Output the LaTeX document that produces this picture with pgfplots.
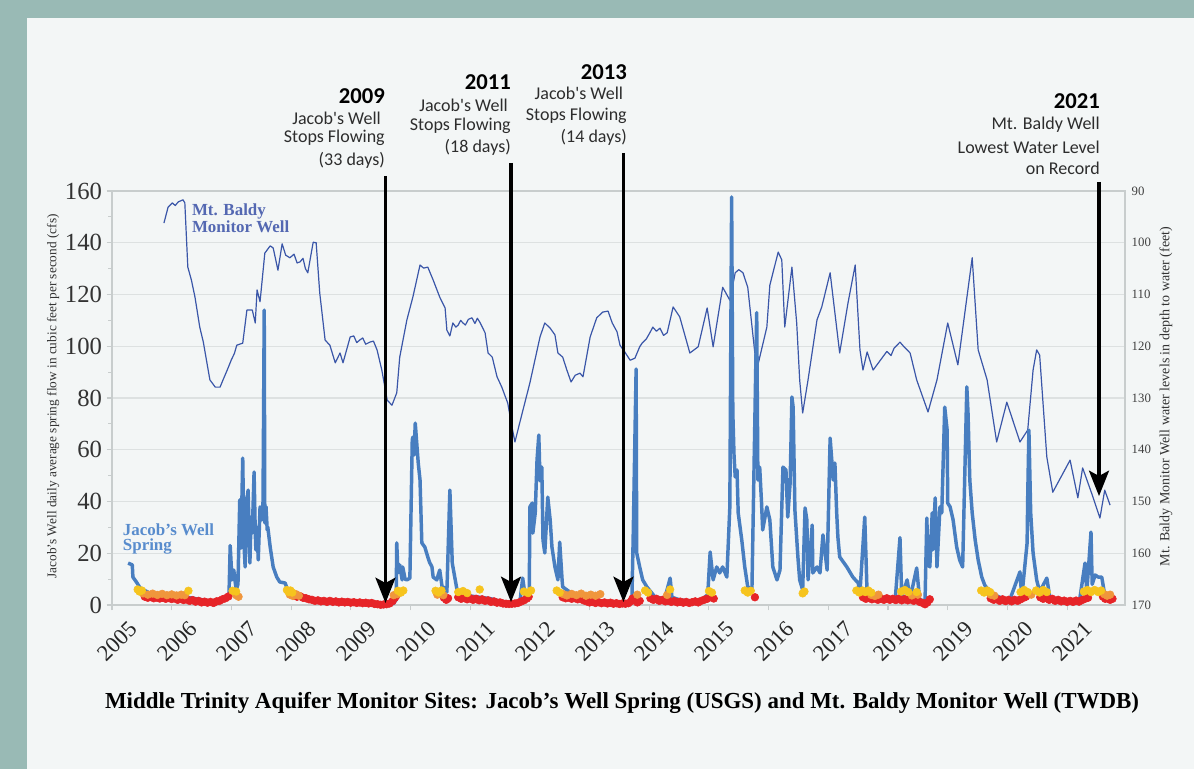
\documentclass[border=0pt]{standalone}
\usepackage{fontspec}
\setmainfont{Liberation Serif}
\newfontfamily\carlito{Carlito}
\usepackage{pgfplots}
\pgfplotsset{compat=1.18}
\usetikzlibrary{arrows.meta}
\definecolor{outerbg}{RGB}{153,186,181}
\definecolor{panel}{RGB}{243,246,246}
\definecolor{springblue}{RGB}{72,126,192}
\definecolor{baldyblue}{RGB}{58,86,168}
\definecolor{baldytext}{RGB}{84,104,178}
\definecolor{springtext}{RGB}{88,140,205}
\definecolor{gridc}{RGB}{221,225,225}
\definecolor{framec}{RGB}{200,205,205}
\definecolor{dotred}{RGB}{230,36,40}
\definecolor{dotorange}{RGB}{240,150,60}
\definecolor{dotyellow}{RGB}{246,196,30}
\definecolor{annot}{RGB}{45,45,45}
\begin{document}
\begin{tikzpicture}[x=1pt,y=1pt]
\fill[outerbg] (0,0) rectangle (895.5,576.75);
\fill[panel] (20.25,0) rectangle (895.5,563.25);

% ---------- right axis: Mt. Baldy depth to water ----------
\begin{axis}[at={(84pt,123pt)}, anchor=south west, scale only axis,
  width=759.75pt, height=310.5pt,
  xmin=2005, xmax=2021.97, ymin=90, ymax=170, y dir=reverse,
  axis y line*=right, axis x line=none,
  ytick={90,100,...,170}, ymajorgrids,
  grid style={gridc, line width=1.1pt},
  major tick length=0pt, axis line style={draw=none},
  /pgf/number format/assume math mode=true,
  yticklabel style={font=\fontsize{9.6}{10}\selectfont, text=black!75, xshift=1.5pt},
]
\addplot[baldyblue, line width=0.9pt, line join=round] coordinates {
(2005.87,96.2) (2005.94,93.1) (2006.01,92.3) (2006.06,92.8) (2006.11,92.1) (2006.19,91.7) (2006.22,92.3)
(2006.27,104.7) (2006.33,107.2) (2006.39,110.5) (2006.47,116.3) (2006.53,119.2) (2006.59,123.2) (2006.64,126.5) (2006.73,127.9)
(2006.81,127.9) (2006.86,126.5) (2006.93,124.6) (2007.00,122.6) (2007.05,121.4) (2007.09,119.8) (2007.19,119.4) (2007.26,113.0)
(2007.35,113.0) (2007.40,115.5) (2007.43,109.1) (2007.48,111.4) (2007.56,102.0) (2007.65,100.6)
(2007.70,101.0) (2007.78,105.3) (2007.85,100.2) (2007.91,102.4) (2007.98,102.9) (2008.05,102.2) (2008.10,103.9)
(2008.15,103.7) (2008.20,103.0) (2008.24,105.0) (2008.28,105.8)
(2008.37,99.9) (2008.42,100.0) (2008.48,109.7) (2008.57,118.8) (2008.65,119.8) (2008.74,123.2)
(2008.82,121.3) (2008.87,123.2) (2008.99,118.2) (2009.05,118.0) (2009.10,119.3) (2009.15,118.8) (2009.20,118.4)
(2009.25,119.6) (2009.32,119.2) (2009.38,119.0) (2009.44,120.7)
(2009.52,124.6) (2009.61,130.4) (2009.69,131.4) (2009.77,129.0) (2009.82,122.1) (2009.94,114.9)
(2010.04,110.5) (2010.16,104.3) (2010.22,104.9) (2010.29,104.7) (2010.38,107.2) (2010.49,110.5) (2010.58,112.6)
(2010.61,116.9) (2010.66,118.0) (2010.71,115.5) (2010.76,116.3) (2010.80,115.9) (2010.84,115.0) (2010.88,115.5)
(2010.92,115.9) (2010.97,114.8) (2011.03,114.5) (2011.08,115.6) (2011.12,114.6)
(2011.16,115.3) (2011.25,117.4) (2011.30,121.3) (2011.37,122.1) (2011.45,125.9) (2011.53,127.9)
(2011.63,131.0) (2011.70,135.6) (2011.75,138.5) (2011.83,134.8) (2012.00,127.1) (2012.17,118.2)
(2012.25,115.5) (2012.34,116.5) (2012.42,117.8) (2012.47,121.3) (2012.55,122.1) (2012.62,124.6)
(2012.69,126.9) (2012.76,125.6) (2012.84,125.2) (2012.89,125.9) (2013.01,118.2) (2013.12,114.5)
(2013.22,113.4) (2013.31,113.2) (2013.38,115.5) (2013.46,117.2) (2013.51,119.8) (2013.59,121.1)
(2013.68,122.7) (2013.76,122.3) (2013.84,120.1) (2013.88,119.4) (2013.95,118.6) (2014.01,117.4) (2014.06,116.3)
(2014.12,117.1) (2014.18,116.5) (2014.24,117.9) (2014.30,117.4) (2014.40,112.4) (2014.51,114.3) (2014.68,121.3) (2014.82,120.1) (2014.97,112.6)
(2015.07,120.1) (2015.23,108.6) (2015.35,111.1) (2015.44,105.8) (2015.50,105.2) (2015.57,105.8) (2015.65,108.6)
(2015.80,124.6) (2015.97,116.3) (2016.02,108.2) (2016.16,101.8) (2016.22,103.3) (2016.27,116.3)
(2016.39,104.7) (2016.47,115.5) (2016.52,126.5) (2016.57,132.9) (2016.66,126.5) (2016.81,114.9)
(2016.89,112.4) (2017.03,105.8) (2017.19,121.3) (2017.33,111.6) (2017.45,104.3) (2017.53,120.7)
(2017.58,124.6) (2017.65,121.1) (2017.75,124.6) (2017.91,122.1) (2017.98,121.0) (2018.05,121.8) (2018.10,120.4)
(2018.15,119.8) (2018.20,119.2) (2018.26,120.0) (2018.37,121.3)
(2018.48,126.5) (2018.67,132.7) (2018.82,126.5) (2019.00,115.5) (2019.17,123.6) (2019.41,102.9)
(2019.51,120.7) (2019.66,126.5) (2019.82,138.5) (2019.99,130.8) (2020.21,138.5) (2020.34,136.2)
(2020.43,124.6) (2020.49,120.7) (2020.54,121.7) (2020.66,141.4) (2020.76,148.2) (2021.05,142.0)
(2021.18,149.3) (2021.26,143.5) (2021.42,148.7) (2021.55,153.2) (2021.63,147.8) (2021.72,150.7)
};
\end{axis}

% ---------- left axis: Jacob's Well spring flow ----------
\begin{axis}[at={(84pt,123pt)}, anchor=south west, scale only axis,
  width=759.75pt, height=310.5pt,
  xmin=2005, xmax=2021.97, ymin=0, ymax=160,
  axis line style={framec, line width=0.8pt},
  xtick={2005,2006,...,2021}, ytick={0,20,...,160}, minor y tick num=1,
  xtick pos=lower, ytick pos=left,
  tick align=outside, major tick length=4pt, minor tick length=3pt,
  tick style={framec, line width=0.8pt},
  /pgf/number format/assume math mode=true,
  x tick label style={/pgf/number format/1000 sep={}, font=\fontsize{17}{18}\selectfont, text=black!85,
     anchor=north east, xshift=12pt, yshift=-2.25pt, rotate=45},
  yticklabel style={font=\fontsize{18.5}{20}\selectfont, text=black!80},
]
\addplot[springblue, line width=2.6pt, line join=round] coordinates {
(2005.27,16.2) (2005.34,15.5) (2005.35,10.8) (2005.42,8.5) (2005.47,6.6) (2005.64,4.5) (2005.89,4)
(2006.14,3.5) (2006.39,2.5) (2006.64,1.5) (2006.81,2) (2006.94,3) (2006.96,3.9) (2006.98,23)
(2007.01,9.7) (2007.04,13.5) (2007.08,5.8) (2007.11,8) (2007.14,40.6) (2007.16,22) (2007.19,56.8) (2007.21,24)
(2007.23,14.7) (2007.25,30) (2007.26,40.6) (2007.28,44.4) (2007.30,25) (2007.31,16.2) (2007.33,34) (2007.35,27.8)
(2007.38,51.4) (2007.40,28) (2007.41,21.3) (2007.43,30) (2007.45,17.4)
(2007.48,37.9) (2007.51,32.9) (2007.53,40) (2007.55,114) (2007.56,31.7) (2007.58,38) (2007.60,29) (2007.61,30.1) (2007.65,22.4)
(2007.70,14.7) (2007.76,10.8) (2007.81,8.9) (2007.90,8.5) (2007.93,6.6) (2007.98,5) (2008.15,3)
(2008.48,2) (2008.82,1.5) (2009.15,1) (2009.40,0.5) (2009.57,0.2) (2009.71,0.5) (2009.76,2)
(2009.77,24) (2009.79,12.4) (2009.82,15.5) (2009.86,9.7) (2009.87,14.7) (2009.91,10) (2009.94,9.7)
(2009.99,10.4) (2010.03,63.8) (2010.04,64.9) (2010.06,58) (2010.08,70.3) (2010.11,61) (2010.13,54.9) (2010.16,48.3)
(2010.19,24) (2010.24,22.4) (2010.29,18.6) (2010.32,16.5) (2010.36,14.7) (2010.38,10.8) (2010.44,9.7) (2010.49,13.5)
(2010.53,7) (2010.58,6.6) (2010.61,5) (2010.66,44.4) (2010.70,16.2) (2010.75,9.7) (2010.78,5.8)
(2010.83,4.5) (2011.00,3.5) (2011.16,3) (2011.33,2.5) (2011.50,1.5) (2011.67,0.8) (2011.83,0.5)
(2011.88,10.4) (2011.93,2) (2011.99,4) (2012.00,37.9) (2012.04,39.4) (2012.05,27.8) (2012.09,35.6)
(2012.12,56) (2012.15,65.7) (2012.17,48) (2012.20,53.3) (2012.22,25.1) (2012.25,20.1) (2012.30,41.7) (2012.34,32.9)
(2012.37,22.4) (2012.42,14.7) (2012.47,9.7) (2012.50,24.3) (2012.54,9.7) (2012.55,7) (2012.67,5)
(2012.84,3.5) (2013.01,2.5) (2013.17,1.5) (2013.34,1) (2013.51,0.8) (2013.64,1) (2013.71,3)
(2013.73,25.1) (2013.78,91.2) (2013.79,20.1) (2013.84,14.7) (2013.89,9.7) (2013.96,7) (2014.10,3)
(2014.26,2.5) (2014.35,10.4) (2014.38,3) (2014.51,2) (2014.68,1.5) (2014.85,1.5) (2014.98,4)
(2015.02,20.5) (2015.07,9.7) (2015.13,14.7) (2015.18,12.4) (2015.23,14.7) (2015.30,10.8) (2015.35,37.9)
(2015.38,157.7) (2015.40,74.2) (2015.42,58) (2015.44,49.5) (2015.47,52.2) (2015.49,35.6) (2015.55,25.1) (2015.60,14.7)
(2015.65,7) (2015.72,5.8) (2015.80,113) (2015.82,48.3) (2015.85,53.3) (2015.88,40) (2015.90,29) (2015.97,37.9)
(2016.02,32.9) (2016.07,14.7) (2016.14,9.7) (2016.19,13.5) (2016.24,53.3) (2016.29,52.2) (2016.32,34)
(2016.36,47.2) (2016.39,80.4) (2016.41,76.5) (2016.44,36.7) (2016.49,18.6) (2016.52,9.7) (2016.57,5.8)
(2016.61,37.5) (2016.64,32.9) (2016.66,9.7) (2016.73,30.9) (2016.74,12.4) (2016.81,14.7) (2016.86,12.4)
(2016.91,27.1) (2016.98,13.5) (2017.03,64.5) (2017.06,55.3) (2017.08,48.3) (2017.11,54.9) (2017.14,35.6)
(2017.16,26.3) (2017.19,18.6) (2017.31,14.7) (2017.41,10.8) (2017.50,8.5) (2017.53,5) (2017.61,34)
(2017.65,4) (2017.78,3) (2017.95,2.5) (2018.12,2) (2018.20,26) (2018.23,3) (2018.32,9.7) (2018.37,2.5)
(2018.48,14.3) (2018.53,2) (2018.62,1.5) (2018.65,33.6) (2018.67,16.2) (2018.70,14.7) (2018.74,35.6)
(2018.75,21.3) (2018.79,41.4) (2018.82,14.7) (2018.87,37.9) (2018.90,35.6) (2018.95,76.5) (2018.99,67.6)
(2019.00,39.4) (2019.04,37.9) (2019.09,32.9) (2019.15,22.4) (2019.20,17.4) (2019.25,14.7) (2019.32,84.3)
(2019.34,74.2) (2019.37,48.3) (2019.41,35.6) (2019.46,25.1) (2019.51,17.4) (2019.57,10.8) (2019.62,7.7)
(2019.71,5) (2019.87,3) (2020.04,2) (2020.21,12.8) (2020.24,3) (2020.33,24) (2020.34,41.7) (2020.36,67.6)
(2020.39,35.6) (2020.43,20.1) (2020.49,9.7) (2020.54,5) (2020.66,10.4) (2020.71,3) (2020.88,2)
(2021.05,1.5) (2021.21,2) (2021.30,16.2) (2021.33,5) (2021.40,28.2) (2021.42,8) (2021.47,11.6)
(2021.52,10.8) (2021.58,10.8) (2021.63,4) (2021.72,2)
};
% low-flow red
\addplot[only marks, mark=*, mark size=2.9pt, color=dotred, mark options={draw=none, fill=dotred}] coordinates {
(2005.55,3.2) (2005.60,2.8) (2005.65,3.1) (2005.70,2.6) (2005.75,2.9) (2005.80,2.5) (2005.85,2.8)
(2005.90,2.4) (2005.95,2.7) (2006.00,2.3) (2006.05,2.6) (2006.10,2.0) (2006.15,2.4) (2006.20,1.9)
(2006.25,2.2) (2006.30,1.6) (2006.35,1.9) (2006.40,1.3) (2006.45,1.6) (2006.50,1.0) (2006.55,1.3)
(2006.60,0.9) (2006.65,1.2) (2006.70,0.8) (2006.75,1.4) (2006.80,1.6) (2006.85,2.2) (2006.90,2.6)
(2006.95,3.3)
(2008.05,3.6) (2008.10,3.2) (2008.15,3.4) (2008.20,2.8) (2008.25,2.6) (2008.30,2.2) (2008.35,2.0)
(2008.40,1.6) (2008.45,1.8) (2008.50,1.4) (2008.55,1.6) (2008.60,1.2) (2008.65,1.6) (2008.70,1.2)
(2008.75,1.4) (2008.80,1.0) (2008.85,1.3) (2008.90,1.0) (2008.95,1.2) (2009.00,0.9) (2009.05,1.1)
(2009.10,0.8) (2009.15,1.0) (2009.20,0.7) (2009.25,0.9) (2009.30,0.6) (2009.35,0.8) (2009.40,0.4)
(2009.45,0.3) (2009.50,0.1) (2009.55,0.2) (2009.60,0.3) (2009.65,0.6) (2009.70,1.5) (2009.74,2.8)
(2009.76,3.5)
(2010.56,2.8) (2010.60,2.0) (2010.63,2.6)
(2010.80,3.0) (2010.85,2.4) (2010.90,2.8) (2010.95,2.2) (2011.00,2.6) (2011.05,2.0) (2011.10,2.4)
(2011.15,1.8) (2011.20,2.2) (2011.25,1.6) (2011.30,1.8) (2011.35,1.2) (2011.40,1.4) (2011.45,0.9)
(2011.50,1.0) (2011.55,0.6) (2011.60,0.5) (2011.65,0.4) (2011.70,0.5) (2011.75,0.6) (2011.80,0.8)
(2011.85,1.3) (2011.90,1.8) (2011.95,2.5) (2011.98,3.2)
(2012.55,3.0) (2012.60,2.6) (2012.65,2.9) (2012.70,2.4) (2012.75,2.7) (2012.80,2.2) (2012.85,2.5)
(2012.90,1.8) (2012.95,1.4) (2013.00,1.0) (2013.05,1.2) (2013.10,0.8) (2013.15,1.1) (2013.20,0.7)
(2013.25,1.0) (2013.30,0.6) (2013.35,0.9) (2013.40,0.5) (2013.45,0.7) (2013.50,0.4) (2013.55,0.6)
(2013.60,0.5) (2013.65,0.7) (2013.70,1.5) (2013.72,2.5) (2013.80,1.0) (2013.84,1.6)
(2014.02,2.6) (2014.07,2.0) (2014.12,2.4) (2014.17,1.6) (2014.22,2.0) (2014.27,1.4) (2014.32,1.7)
(2014.37,1.2) (2014.42,1.5) (2014.47,1.0) (2014.52,1.3) (2014.57,0.9) (2014.62,1.2) (2014.67,0.8)
(2014.72,1.1) (2014.77,1.4) (2014.82,1.0) (2014.87,1.6) (2014.92,2.0) (2014.97,2.4) (2015.08,2.5)
(2015.77,3.0)
(2017.58,3.0) (2017.63,2.4) (2017.68,2.8) (2017.73,2.2) (2017.78,2.6) (2017.83,2.0) (2017.88,2.5)
(2017.93,2.0) (2017.98,2.6) (2018.03,2.0) (2018.08,2.4) (2018.13,1.9) (2018.18,2.5) (2018.23,1.8)
(2018.28,2.3) (2018.33,1.8) (2018.38,2.4) (2018.43,1.6) (2018.48,2.0) (2018.53,1.2) (2018.58,0.8)
(2018.62,0.3) (2018.66,1.0) (2018.70,2.2)
(2019.72,2.6) (2019.77,2.0) (2019.82,2.4) (2019.87,1.6) (2019.92,2.2) (2019.97,1.5) (2020.02,2.0)
(2020.07,1.4) (2020.12,2.0) (2020.17,1.6) (2020.22,2.2) (2020.27,2.8) (2020.31,3.2)
(2020.55,3.0) (2020.60,2.4) (2020.65,2.8) (2020.70,2.0) (2020.75,2.4) (2020.80,1.6) (2020.85,2.0)
(2020.90,1.4) (2020.95,1.7) (2021.00,1.2) (2021.05,1.6) (2021.10,1.2) (2021.15,1.7) (2021.20,1.3)
(2021.25,1.9) (2021.30,2.4) (2021.35,2.8)
(2021.60,3.2) (2021.64,2.4) (2021.68,2.8) (2021.72,2.0) (2021.76,2.4)
};
% low-flow orange
\addplot[only marks, mark=*, mark size=2.9pt, color=dotorange, mark options={draw=none, fill=dotorange}] coordinates {
(2005.52,4.5) (2005.60,4.0) (2005.68,4.4) (2005.76,3.9) (2005.84,4.3) (2005.92,3.8) (2006.00,4.1)
(2006.08,3.7) (2006.16,4.0) (2006.22,3.8)
(2007.08,3.8) (2007.12,3.2)
(2007.98,4.0) (2008.03,3.5) (2008.08,4.2) (2008.13,3.6)
(2009.72,3.8) (2009.78,4.2)
(2010.45,4.0) (2010.55,3.8)
(2012.56,4.2) (2012.62,3.7) (2012.70,4.3) (2012.78,3.8) (2012.86,4.4) (2012.94,3.6) (2013.02,4.0)
(2013.10,3.6) (2013.18,4.2)
(2013.80,4.0) (2014.30,3.9)
(2017.72,3.9) (2017.78,3.5) (2017.84,4.0)
(2018.40,3.7) (2018.50,4.0)
(2019.72,4.0) (2019.78,3.6) (2020.40,4.0)
(2021.62,4.2) (2021.67,3.6) (2021.72,4.0)
};
% low-flow yellow
\addplot[only marks, mark=*, mark size=2.9pt, color=dotyellow, mark options={draw=none, fill=dotyellow}] coordinates {
(2005.43,6.0) (2005.46,5.2) (2005.50,5.6) (2006.28,5.5)
(2007.02,5.5) (2007.08,5.2)
(2007.93,5.8) (2007.96,5.0) (2007.99,5.6) (2008.02,4.8)
(2009.79,5.5) (2009.84,4.8) (2009.88,5.6)
(2010.42,5.5) (2010.47,4.8) (2010.52,5.6)
(2010.80,5.0) (2010.88,5.4) (2010.95,4.6) (2011.16,6.0)
(2011.90,5.2) (2011.97,4.6) (2012.02,5.6)
(2012.45,5.6) (2012.50,4.8)
(2013.93,5.6) (2013.98,4.8) (2014.35,6.0)
(2015.00,5.4) (2015.05,4.8)
(2015.60,5.6) (2015.65,4.8) (2015.70,5.5)
(2016.57,4.5) (2016.60,5.2)
(2017.47,5.6) (2017.52,4.8) (2017.57,5.6) (2017.62,5.0) (2017.67,5.6) (2017.72,4.8)
(2018.22,5.2) (2018.28,5.8) (2018.34,5.0) (2018.48,5.0)
(2019.56,5.6) (2019.61,4.8) (2019.66,5.6) (2019.71,5.0)
(2020.22,5.0) (2020.28,5.8) (2020.34,5.0)
(2020.48,5.6) (2020.54,4.8) (2020.60,5.8) (2020.66,5.0)
(2021.28,5.2) (2021.34,5.8) (2021.40,5.0) (2021.46,5.8) (2021.52,5.0) (2021.57,5.6)
};
\end{axis}

% ---------- series labels ----------
\begin{scope}[font=\bfseries\fontsize{12.7}{14}\selectfont]
\node[anchor=base west, inner sep=0, text=baldytext] at (143.8,415.5) {Mt. Baldy};
\node[anchor=base west, inner sep=0, text=baldytext] at (143.8,402.75) {Monitor Well};
\node[anchor=base west, inner sep=0, text=springtext] at (92,175.5) {Jacob's Well};
\node[anchor=base west, inner sep=0, text=springtext] at (92,164.25) {Spring};
\end{scope}

% ---------- axis titles ----------
\node[rotate=90, inner sep=0, text=black!80, font=\fontsize{10}{11}\selectfont] at (39.75,279.4)
  {Jacob's Well daily average spring flow in cubic feet per second (cfs)};
\node[rotate=90, inner sep=0, text=black!80, font=\fontsize{10.5}{11}\selectfont] at (874.5,279.4)
  {Mt. Baldy Monitor Well water levels in depth to water (feet)};
\node[inner sep=0, font=\bfseries\fontsize{17.2}{19}\selectfont] at (466.5,49.5)
  {Middle Trinity Aquifer Monitor Sites: Jacob's Well Spring (USGS) and Mt. Baldy Monitor Well (TWDB)};

% ---------- annotations ----------
\begin{scope}[line width=2.4pt, -{Stealth[length=19pt, width=15pt, inset=4pt]}]
\draw (289.1,444.75) -- (289.1,124.5);
\draw (383.25,454.5) -- (383.25,125.25);
\draw (467.6,462) -- (467.6,125.25);
\draw (824.25,440.25) -- (824.25,204.75);
\end{scope}
\begin{scope}[every node/.style={anchor=base east, inner sep=0, text=annot, font=\carlito\fontsize{13.5}{15}\selectfont}]
\node[font=\carlito\bfseries\fontsize{17}{18}\selectfont, text=black] at (288.75,499.3) {2009};
\node at (285.75,483) {Jacob's Well};
\node at (288.75,469.5) {Stops Flowing};
\node at (288.75,452.25) {(33 days)};
\node[font=\carlito\bfseries\fontsize{17}{18}\selectfont, text=black] at (383.25,509.25) {2011};
\node at (381,493.0) {Jacob's Well};
\node at (383.25,478.5) {Stops Flowing};
\node at (383.25,462.2) {(18 days)};
\node[font=\carlito\bfseries\fontsize{17}{18}\selectfont, text=black] at (470.25,517.3) {2013};
\node at (467.5,501.75) {Jacob's Well};
\node at (470.25,486.2) {Stops Flowing};
\node at (470.25,469.7) {(14 days)};
\node[font=\carlito\bfseries\fontsize{17}{18}\selectfont, text=black] at (825,495.5) {2021};
\node at (825,479.25) {Mt. Baldy Well};
\node at (825,461.8) {Lowest Water Level};
\node at (825,445.5) {on Record};
\end{scope}

\pgfresetboundingbox
\path[use as bounding box] (0,0) rectangle (895.5,576.75);
\end{tikzpicture}
\end{document}
